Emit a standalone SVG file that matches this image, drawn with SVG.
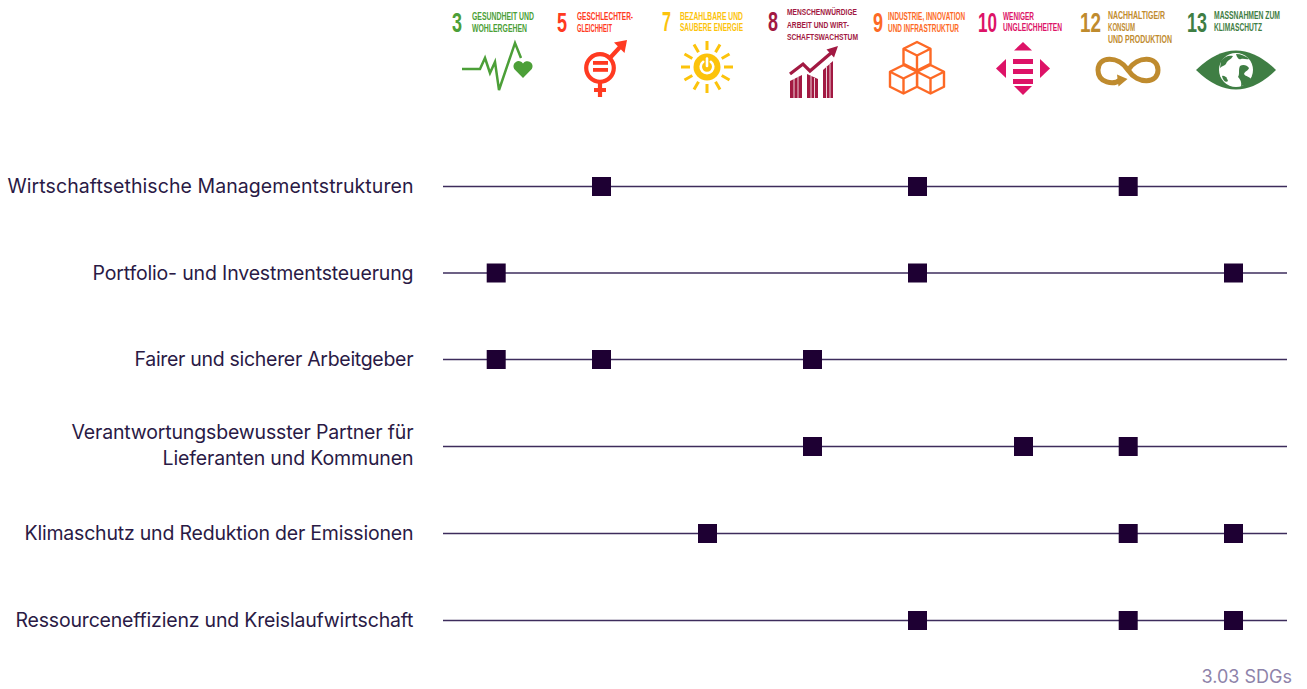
<svg xmlns="http://www.w3.org/2000/svg" width="1307" height="689" viewBox="0 0 1307 689">
<defs>
<style>
.lbl{font-family:Inter,"Noto Sans","Liberation Sans",sans-serif;font-size:19.5px;fill:#2a1a45;text-anchor:end}
.num{font-family:"Liberation Sans",Arial,sans-serif;font-weight:bold;font-size:28.5px}
.sdg{font-family:"Liberation Sans",Arial,sans-serif;font-weight:bold;font-size:10.5px}
.sdg8{font-family:"Liberation Sans",Arial,sans-serif;font-weight:bold;font-size:9.6px}
.track{stroke:#3d2c5c;stroke-width:1.4;fill:none}
.mk{fill:#1e0033}
.foot{font-family:Inter,"Noto Sans","Liberation Sans",sans-serif;font-size:18px;fill:#8e83aa;text-anchor:end}
</style>
<rect id="sq" x="-9.5" y="-9.5" width="19" height="19"/>
<g id="cube">
<path d="M0,0 L13.5,6.75 L13.5,21.75 L0,28.5 L-13.5,21.75 L-13.5,6.75 Z" fill="#fff" stroke="#fd6925" stroke-width="2.4" stroke-linejoin="round"/>
<path d="M-13.5,6.75 L0,13.5 L13.5,6.75 M0,13.5 L0,28.5" fill="none" stroke="#fd6925" stroke-width="2.4" stroke-linejoin="round"/>
</g>
</defs>
<rect width="1307" height="689" fill="#fff"/>

<!-- SDG header -->
<g id="sdg3" fill="#4c9f38">
<text class="num" transform="translate(452,32) scale(0.6,1)" textLength="16.7" lengthAdjust="spacingAndGlyphs">3</text>
<text class="sdg" transform="translate(472,20) scale(0.65,1)" textLength="95.4" lengthAdjust="spacingAndGlyphs">GESUNDHEIT UND</text>
<text class="sdg" transform="translate(472,32) scale(0.65,1)" textLength="84.6" lengthAdjust="spacingAndGlyphs">WOHLERGEHEN</text>
<path d="M462,69 L480,69 L485,58 L490,73 L495,62 L499,90 L515,43 L521,58" fill="none" stroke="#4c9f38" stroke-width="2.5" stroke-linejoin="miter"/>
<path d="M523,78 L514.2,69 A4.8,4.8 0 1 1 523,63.6 A4.8,4.8 0 1 1 531.8,69 Z"/>
</g>

<g id="sdg5" fill="#ff3a21">
<text class="num" transform="translate(557,32) scale(0.6,1)" textLength="16.7" lengthAdjust="spacingAndGlyphs">5</text>
<text class="sdg" transform="translate(577,20) scale(0.65,1)" textLength="86.2" lengthAdjust="spacingAndGlyphs">GESCHLECHTER-</text>
<text class="sdg" transform="translate(577,32) scale(0.65,1)" textLength="53.8" lengthAdjust="spacingAndGlyphs">GLEICHHEIT</text>
<circle cx="600" cy="68" r="13.8" fill="none" stroke="#ff3a21" stroke-width="4.2"/>
<rect x="593" y="61" width="15" height="3.8"/>
<rect x="593" y="68" width="15" height="3.8"/>
<path d="M609,59 L621,46" stroke="#ff3a21" stroke-width="4.2" fill="none"/>
<path d="M627,40 L614,42.5 L624.5,53 Z"/>
<path d="M600,83 L600,97 M594,90 L606,90" stroke="#ff3a21" stroke-width="4.2" fill="none"/>
</g>

<g id="sdg7" fill="#fcc30b">
<text class="num" transform="translate(662,31) scale(0.6,1)" textLength="15" lengthAdjust="spacingAndGlyphs">7</text>
<text class="sdg" transform="translate(680,20) scale(0.65,1)" textLength="96.9" lengthAdjust="spacingAndGlyphs">BEZAHLBARE UND</text>
<text class="sdg" transform="translate(680,31) scale(0.65,1)" textLength="96.9" lengthAdjust="spacingAndGlyphs">SAUBERE ENERGIE</text>
<circle cx="707" cy="67" r="13.5"/>
<path d="M703.2,61.8 A6.3,6.3 0 1 0 710.8,61.8" fill="none" stroke="#fff" stroke-width="2.6" stroke-linecap="round"/>
<path d="M707,58.5 L707,66" stroke="#fff" stroke-width="2.6" stroke-linecap="round"/>
<g stroke="#fcc30b" stroke-width="3" stroke-linecap="butt">
<path d="M707,50 L707,41 M707,84 L707,93 M690,67 L681,67 M724,67 L733,67"/>
<path d="M715.5,52.3 L720,44.5 M698.5,81.7 L694,89.5 M698.5,52.3 L694,44.5 M715.5,81.7 L720,89.5"/>
<path d="M721.7,58.5 L729.5,54 M692.3,75.5 L684.5,80 M692.3,58.5 L684.5,54 M721.7,75.5 L729.5,80"/>
</g>
</g>

<g id="sdg8" fill="#a21942">
<text class="num" transform="translate(768,31) scale(0.6,1)" textLength="16.7" lengthAdjust="spacingAndGlyphs">8</text>
<text class="sdg8" transform="translate(787,15) scale(0.65,1)" textLength="107.7" lengthAdjust="spacingAndGlyphs">MENSCHENWÜRDIGE</text>
<text class="sdg8" transform="translate(787,27.5) scale(0.65,1)" textLength="95.4" lengthAdjust="spacingAndGlyphs">ARBEIT UND WIRT-</text>
<text class="sdg8" transform="translate(787,40) scale(0.65,1)" textLength="109.2" lengthAdjust="spacingAndGlyphs">SCHAFTSWACHSTUM</text>
<path d="M790,81 L802,75 L802,98 L790,98 Z"/>
<path d="M807,74 L818,79 L818,98 L807,98 Z"/>
<path d="M823,70 L833,61 L833,98 L823,98 Z"/>
<g stroke="#fff" stroke-width="0.8">
<path d="M794,78 L794,98 M798,77 L798,98 M811,76 L811,98 M814.5,78 L814.5,98 M826.5,67 L826.5,98 M830,64 L830,98"/>
</g>
<path d="M790,74 L803,64 L810,71 L831,53" fill="none" stroke="#a21942" stroke-width="3.2"/>
<path d="M838,46 L826.5,49.5 L834,57.5 Z"/>
</g>

<g id="sdg9" fill="#fd6925">
<text class="num" transform="translate(873,32) scale(0.6,1)" textLength="16.7" lengthAdjust="spacingAndGlyphs">9</text>
<text class="sdg" transform="translate(888,19.5) scale(0.65,1)" textLength="118.5" lengthAdjust="spacingAndGlyphs">INDUSTRIE, INNOVATION</text>
<text class="sdg" transform="translate(888,31.5) scale(0.65,1)" textLength="109.2" lengthAdjust="spacingAndGlyphs">UND INFRASTRUKTUR</text>
<use href="#cube" x="917" y="42"/>
<use href="#cube" x="930.5" y="65"/>
<use href="#cube" x="903.5" y="65"/>
</g>

<g id="sdg10" fill="#dd1367">
<text class="num" transform="translate(978,32) scale(0.6,1)" textLength="31.7" lengthAdjust="spacingAndGlyphs">10</text>
<text class="sdg" transform="translate(1003,19.5) scale(0.65,1)" textLength="47.7" lengthAdjust="spacingAndGlyphs">WENIGER</text>
<text class="sdg" transform="translate(1003,31) scale(0.65,1)" textLength="90.8" lengthAdjust="spacingAndGlyphs">UNGLEICHHEITEN</text>
<path d="M1023,42 L1032,50.5 L1014,50.5 Z"/>
<path d="M1014,86 L1032,86 L1023,95 Z"/>
<path d="M996,68.5 L1006,59 L1006,78 Z"/>
<path d="M1050,68.5 L1040,59 L1040,78 Z"/>
<rect x="1013" y="59" width="20" height="5"/>
<rect x="1013" y="69" width="20" height="5"/>
<rect x="1013" y="79" width="20" height="5"/>
</g>

<g id="sdg12" fill="#bf8b2e">
<text class="num" transform="translate(1080,32) scale(0.6,1)" textLength="35" lengthAdjust="spacingAndGlyphs">12</text>
<text class="sdg" transform="translate(1108,19) scale(0.65,1)" textLength="87.7" lengthAdjust="spacingAndGlyphs">NACHHALTIGE/R</text>
<text class="sdg" transform="translate(1108,31) scale(0.65,1)" textLength="41.5" lengthAdjust="spacingAndGlyphs">KONSUM</text>
<text class="sdg" transform="translate(1108,43) scale(0.65,1)" textLength="98.5" lengthAdjust="spacingAndGlyphs">UND PRODUKTION</text>
<path d="M1128,70 C1138,55 1158,56.5 1158,70 C1158,83.5 1138,85 1128,70 C1118,55 1098,56.5 1098,70 C1098,83.5 1114,85 1120,80" fill="none" stroke="#bf8b2e" stroke-width="5"/>
<path d="M1117,74.5 L1127.5,79 L1118.5,86.5 Z"/>
</g>

<g id="sdg13" fill="#3f7e44">
<text class="num" transform="translate(1187,32) scale(0.6,1)" textLength="33.3" lengthAdjust="spacingAndGlyphs">13</text>
<text class="sdg" transform="translate(1214,19) scale(0.65,1)" textLength="101.5" lengthAdjust="spacingAndGlyphs">MASSNAHMEN ZUM</text>
<text class="sdg" transform="translate(1214,30.5) scale(0.65,1)" textLength="73.8" lengthAdjust="spacingAndGlyphs">KLIMASCHUTZ</text>
<path d="M1196,70 Q1236,31 1276,70 Q1236,109 1196,70 Z"/>
<circle cx="1236" cy="70" r="17" fill="#fff"/>
<path d="M1221,61 C1225,56 1229,55 1233,56 C1231,60 1227,60 1226,64 C1224,66 1222,66 1220,68 Z"/>
<path d="M1236,54 C1241,54 1246,56 1249,59 C1246,60 1244,58 1241,59 C1239,60 1237,58 1236,54 Z"/>
<path d="M1240,66 C1243,64 1247,65 1249,68 C1248,71 1245,71 1244,74 C1246,77 1249,76 1251,79 C1249,83 1245,86 1241,86 C1242,82 1240,79 1238,77 C1240,74 1238,70 1240,66 Z"/>
<path d="M1222,76 C1225,75 1227,78 1228,81 C1226,83 1223,81 1222,76 Z"/>
</g>

<!-- tracks -->
<g id="connectors" class="track">
<line x1="443" y1="186.5" x2="1287" y2="186.5"/>
<line x1="443" y1="273" x2="1287" y2="273"/>
<line x1="443" y1="359.5" x2="1287" y2="359.5"/>
<line x1="443" y1="446.5" x2="1287" y2="446.5"/>
<line x1="443" y1="533.5" x2="1287" y2="533.5"/>
<line x1="443" y1="620.5" x2="1287" y2="620.5"/>
</g>

<g id="row1" class="mk">
<text class="lbl" x="413.5" y="193" textLength="406">Wirtschaftsethische Managementstrukturen</text>
<use href="#sq" x="601.5" y="186.5"/>
<use href="#sq" x="917.5" y="186.5"/>
<use href="#sq" x="1128.2" y="186.5"/>
</g>
<g id="row2" class="mk">
<text class="lbl" x="413.5" y="279.5" textLength="321">Portfolio- und Investmentsteuerung</text>
<use href="#sq" x="496.2" y="273"/>
<use href="#sq" x="917.5" y="273"/>
<use href="#sq" x="1233.5" y="273"/>
</g>
<g id="row3" class="mk">
<text class="lbl" x="413.5" y="366" textLength="279">Fairer und sicherer Arbeitgeber</text>
<use href="#sq" x="496.2" y="359.5"/>
<use href="#sq" x="601.5" y="359.5"/>
<use href="#sq" x="812.5" y="359.5"/>
</g>
<g id="row4" class="mk">
<text class="lbl" x="413.5" y="439" textLength="342">Verantwortungsbewusster Partner für</text>
<text class="lbl" x="413.5" y="465" textLength="251">Lieferanten und Kommunen</text>
<use href="#sq" x="812.5" y="446.5"/>
<use href="#sq" x="1023.5" y="446.5"/>
<use href="#sq" x="1128.2" y="446.5"/>
</g>
<g id="row5" class="mk">
<text class="lbl" x="413.5" y="540" textLength="389">Klimaschutz und Reduktion der Emissionen</text>
<use href="#sq" x="707.5" y="533.5"/>
<use href="#sq" x="1128.2" y="533.5"/>
<use href="#sq" x="1233.5" y="533.5"/>
</g>
<g id="row6" class="mk">
<text class="lbl" x="413.5" y="627" textLength="398">Ressourceneffizienz und Kreislaufwirtschaft</text>
<use href="#sq" x="917.5" y="620.5"/>
<use href="#sq" x="1128.2" y="620.5"/>
<use href="#sq" x="1233.5" y="620.5"/>
</g>

<text class="foot" x="1292" y="683">3.03 SDGs</text>
</svg>
